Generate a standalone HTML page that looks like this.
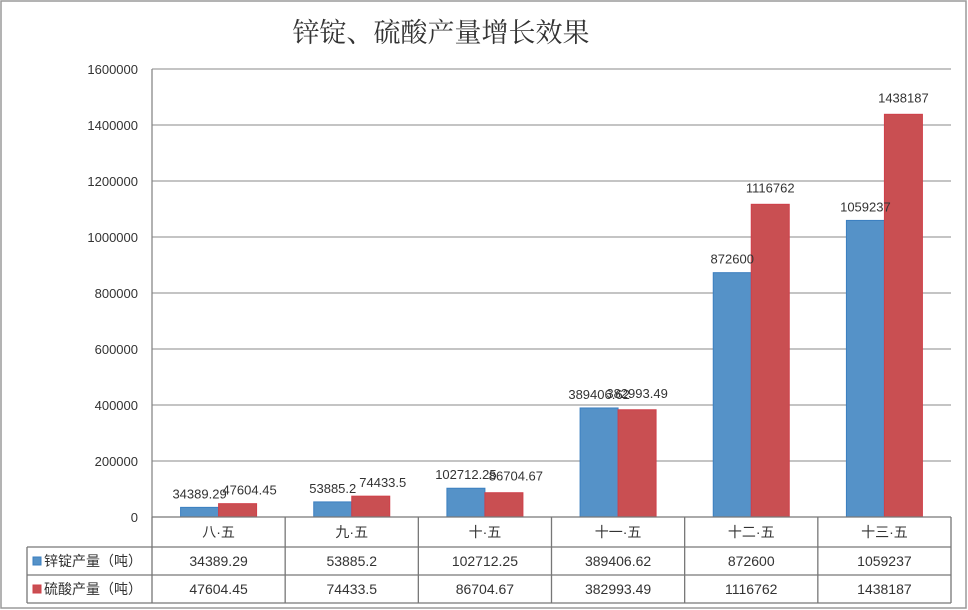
<!DOCTYPE html>
<html><head><meta charset="utf-8"><style>
html,body{margin:0;padding:0;background:#fff;}
svg{display:block;font-family:"Liberation Sans","Noto Sans CJK SC",sans-serif;}
</style></head><body>
<svg id="chart" width="968" height="610" viewBox="0 0 968 610">
<rect x="1" y="1" width="965" height="607" fill="#fff" stroke="#9a9a9a" stroke-width="1.5"/>
<text x="441" y="42" font-size="27" text-anchor="middle" fill="#333" font-family="'Noto Serif CJK SC','Noto Sans CJK SC',serif">锌锭、硫酸产量增长效果</text>
<g id="grid"></g>
<g id="bars"></g>
<g id="table"></g>
</svg>
<script>
const categories=["八·五","九·五","十·五","十一·五","十二·五","十三·五"];
const zincValues=[34389.29,53885.2,102712.25,389406.62,872600,1059237];
const acidValues=[47604.45,74433.5,86704.67,382993.49,1116762,1438187];
const zincLabels=["34389.29","53885.2","102712.25","389406.62","872600","1059237"];
const acidLabels=["47604.45","74433.5","86704.67","382993.49","1116762","1438187"];
const yTicks=[0,200000,400000,600000,800000,1000000,1200000,1400000,1600000];
const seriesNames=["锌锭产量（吨）","硫酸产量（吨）"];

const NS="http://www.w3.org/2000/svg";
const X0=152,X1=951,Y0=517,Y1=69,YMAX=1600000;
const gw=(X1-X0)/categories.length;
function y(v){return Y0-(v/YMAX)*(Y0-Y1);}
function gx(i){return X0+i*gw;}
function mk(tag,attrs,parent,text){const e=document.createElementNS(NS,tag);for(const k in attrs)e.setAttribute(k,attrs[k]);if(text!==undefined)e.textContent=text;parent.appendChild(e);return e;}
const grid=document.getElementById('grid'),bars=document.getElementById('bars'),table=document.getElementById('table');
yTicks.forEach(t=>{
  if(t>0){const l=mk('line',{x1:X0,x2:X1,y1:y(t),y2:y(t),stroke:'#a0a0a0','stroke-width':1.3},grid);
  
  }
  const tx=mk('text',{x:138,y:y(t)+5,'font-size':13,'text-anchor':'end',fill:'#333'},grid,String(t));
  
  
});
const ax=mk('line',{x1:X0,x2:X0,y1:Y1,y2:Y0,stroke:'#888','stroke-width':1.3},grid);


const bw=38;
categories.forEach((c,i)=>{
  const cx=gx(i)+gw/2;
  const b1=mk('rect',{x:cx-bw,y:y(zincValues[i]),width:bw,height:Y0-y(zincValues[i]),fill:'#5592c8',stroke:'#3b7fc0','stroke-width':1},bars);
  
  
  const b2=mk('rect',{x:cx,y:y(acidValues[i]),width:bw,height:Y0-y(acidValues[i]),fill:'#c94f52',stroke:'#d0404a','stroke-width':1},bars);
  
  
  const l1=mk('text',{x:cx-bw/2,y:y(zincValues[i])-9,'font-size':13,'text-anchor':'middle',fill:'#333'},bars,zincLabels[i]);
  
  
  const l2=mk('text',{x:cx+bw/2+(i<3?12:0),y:y(acidValues[i])-(i<2?9:12),'font-size':13,'text-anchor':'middle',fill:'#333'},bars,acidLabels[i]);
  
  
});
// table
const rows=[517,547,575,603];
const st={stroke:'#777','stroke-width':1.3};
[[X0,X1,517],[27,X1,547],[27,X1,575],[27,X1,603]].forEach(r=>{
  const l=mk('line',Object.assign({x1:r[0],x2:r[1],y1:r[2],y2:r[2]},st),table);
  
  
});
const vl=mk('line',Object.assign({x1:27,x2:27,y1:547,y2:603},st),table);


for(let i=0;i<=categories.length;i++){
  const l=mk('line',Object.assign({x1:gx(i),x2:gx(i),y1:517,y2:603},st),table);
  
  
}
categories.forEach((c,i)=>{
  const cx=gx(i)+gw/2;
  const h=mk('text',{x:cx,y:537,'font-size':14,'text-anchor':'middle',fill:'#333'},table,c);
  
  
  const a=mk('text',{x:cx,y:566,'font-size':14,'text-anchor':'middle',fill:'#333'},table,zincLabels[i]);
  
  
  const b=mk('text',{x:cx,y:594,'font-size':14,'text-anchor':'middle',fill:'#333'},table,acidLabels[i]);
  
  
});
[['#5592c8','#3b7fc0',561],['#c94f52','#d0404a',589]].forEach((s,k)=>{
  const r=mk('rect',{x:33,y:s[2]-4,width:8,height:8,fill:s[0],stroke:s[1]},table);
  
  
  const t=mk('text',{x:44,y:s[2]+5,'font-size':14,fill:'#333'},table,seriesNames[k]);
  
  
});
</script>
</body></html>
